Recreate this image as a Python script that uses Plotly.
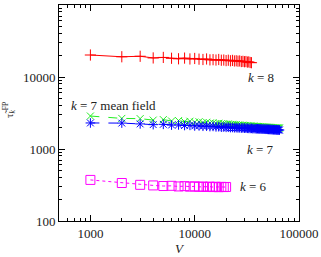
import plotly.graph_objects as go
import math

# ---- data ----
V8 = [1000, 2000, 3000, 4000, 5000, 6000, 7000, 8000, 9000, 10000,
      11000, 12000, 13000, 14000, 15000, 16000, 17000, 18000, 19000, 20000,
      21000, 22000, 23000, 24000, 25000, 26000, 27000, 28000, 29000, 30000,
      31000, 32000, 33000, 34000, 35000]
tau8 = [20200, 19100, 19400, 18400, 18700, 18200, 17900, 18300, 17800, 18100,
        17700, 17500, 17800, 17300, 17400, 17200, 17500, 17100, 17200, 16900,
        17100, 16800, 17000, 16700, 16800, 16600, 16700, 16400, 16500, 16300,
        16400, 16100, 16200, 15900, 15800]

V7 = [1000, 2000, 3000, 4000, 5000, 6000, 7000, 8000, 9000, 10000,
      11000, 12000, 13000, 14000, 15000, 16000, 17000, 18000, 19000, 20000,
      21000, 22000, 23000, 24000, 25000, 26000, 27000, 28000, 29000, 30000,
      31000, 32000, 33000, 34000, 35000, 36000, 37000, 38000, 39000, 40000,
      41000, 42000, 43000, 44000, 45000, 46000, 47000, 48000, 49000, 50000,
      51000, 52000, 53000, 54000, 55000, 56000, 57000, 58000, 59000, 60000,
      61000, 62000, 63000, 64000, 65000]
tau7_mf = [2870, 2660, 2640, 2520, 2560, 2450, 2480, 2400, 2430, 2360,
           2390, 2320, 2350, 2290, 2310, 2260, 2280, 2240, 2250, 2210,
           2230, 2190, 2200, 2170, 2180, 2150, 2160, 2130, 2140, 2120,
           2125, 2100, 2110, 2090, 2095, 2070, 2080, 2060, 2065, 2050,
           2055, 2040, 2045, 2030, 2035, 2020, 2025, 2010, 2015, 2000,
           2005, 1995, 2000, 1985, 1990, 1975, 1980, 1970, 1975, 1965,
           1960, 1965, 1955, 1960, 1950]
tau7 = [2300, 2290, 2230, 2180, 2200, 2150, 2160, 2120, 2130, 2090,
        2100, 2070, 2080, 2050, 2060, 2030, 2040, 2010, 2020, 2000,
        2005, 1985, 1990, 1975, 1980, 1965, 1970, 1955, 1960, 1950,
        1945, 1940, 1935, 1930, 1935, 1920, 1925, 1915, 1910, 1912,
        1905, 1900, 1902, 1895, 1890, 1892, 1885, 1880, 1882, 1875,
        1872, 1870, 1866, 1868, 1860, 1858, 1855, 1852, 1850, 1848,
        1845, 1842, 1840, 1838, 1835]

V6 = [1000, 2000, 3000, 4000, 5000, 6000, 7000, 8000, 9000, 10000,
      11000, 12000, 13000, 14000, 15000, 16000, 17000, 18000, 19000, 20000]
tau6 = [372, 337, 318, 312, 306, 308, 302, 305, 300, 303,
        298, 301, 297, 300, 296, 299, 295, 298, 296, 297]

x_ticks = [1000, 10000, 100000]
y_ticks = [100, 1000, 10000, 100000]

FONT = "Liberation Serif"
TXT = "#222222"

fig = go.Figure()
fig.add_trace(go.Scatter(x=V8, y=tau8, mode="lines+markers",
                         line=dict(color="#ff0000", width=1),
                         marker=dict(symbol="cross-thin-open", size=8,
                                     line=dict(color="rgba(255,0,0,0.6)", width=1))))
fig.add_trace(go.Scatter(x=V7, y=tau7_mf, mode="lines+markers",
                         line=dict(color="#22ee22", width=1, dash="dash"),
                         marker=dict(symbol="x-thin-open", size=7,
                                     line=dict(color="rgba(40,240,40,0.7)", width=1))))
fig.add_trace(go.Scatter(x=V7, y=tau7, mode="lines+markers",
                         line=dict(color="#0000ff", width=1, dash="dash"),
                         marker=dict(symbol="asterisk-open", size=8,
                                     line=dict(color="rgba(0,0,255,0.7)", width=1))))
fig.add_trace(go.Scatter(x=V6, y=tau6, mode="lines+markers",
                         line=dict(color="#ff00ff", width=1, dash="dot"),
                         marker=dict(symbol="square-open", size=9,
                                     line=dict(color="rgba(255,0,255,0.7)", width=1))))

x_minor = [m * 10 ** e for e in (2, 3, 4) for m in range(2, 10)]
x_minor = [v for v in x_minor if 500 <= v <= 100000]
y_minor = [m * 10 ** e for e in (2, 3, 4) for m in range(2, 10)]

axis_common = dict(showgrid=False, zeroline=False, showline=True, linecolor="black",
                   linewidth=1, ticks="inside", ticklen=6, tickcolor="black",
                   automargin=False,
                   mirror="allticks", tickfont=dict(family=FONT, size=13, color=TXT))

fig.update_xaxes(type="log", range=[math.log10(500), 5], tickmode="array",
                 tickvals=x_ticks, ticktext=[str(v) for v in x_ticks],
                 minor=dict(tickmode="array", tickvals=x_minor, ticks="inside",
                            ticklen=3, tickcolor="black"),
                 **axis_common)
fig.update_yaxes(type="log", range=[2, 5], tickmode="array",
                 tickvals=y_ticks, ticktext=[str(v) for v in y_ticks],
                 minor=dict(tickmode="array", tickvals=y_minor, ticks="inside",
                            ticklen=3, tickcolor="black"),
                 **axis_common)

ann_font = dict(family=FONT, size=13, color=TXT)
fig.add_annotation(x=4.635, y=4.0, xref="x", yref="y", text="<i>k</i> = 8",
                   showarrow=False, font=ann_font)
fig.add_annotation(x=4.635, y=3.0, xref="x", yref="y", text="<i>k</i> = 7",
                   showarrow=False, font=ann_font)
fig.add_annotation(x=4.56, y=2.486, xref="x", yref="y", text="<i>k</i> = 6",
                   showarrow=False, font=ann_font)
fig.add_annotation(x=3.218, y=3.6, xref="x", yref="y", text="<i>k</i> = 7 mean field",
                   showarrow=False, font=ann_font)
# axis titles (pixel positions converted below)
fig.add_annotation(x=180, y=248, xref="paper", yref="paper", text="<i>V</i>",
                   showarrow=False, font=ann_font, xanchor="center", yanchor="middle")
fig.add_annotation(x=9, y=110, xref="paper", yref="paper",
                   text="τ̃<sub><i>k</i></sub><sup>FP</sup>", textangle=-90,
                   showarrow=False, font=dict(family=FONT, size=11, color=TXT),
                   xanchor="center", yanchor="middle")

W, H = 321, 257
L, R, T, B = 59, 22, 5, 36
for a in fig.layout.annotations:
    if a.xref == "paper":
        a.x = (a.x - L) / (W - L - R)
        a.y = 1 - (a.y - T) / (H - T - B)

fig.update_layout(width=W, height=H, margin=dict(l=L, r=R, t=T, b=B, autoexpand=False),
                  paper_bgcolor="white", plot_bgcolor="white", showlegend=False)

fig.write_html("out.html", config={"displayModeBar": False},
               post_script="document.body.style.margin='0';document.body.style.padding='0';")
